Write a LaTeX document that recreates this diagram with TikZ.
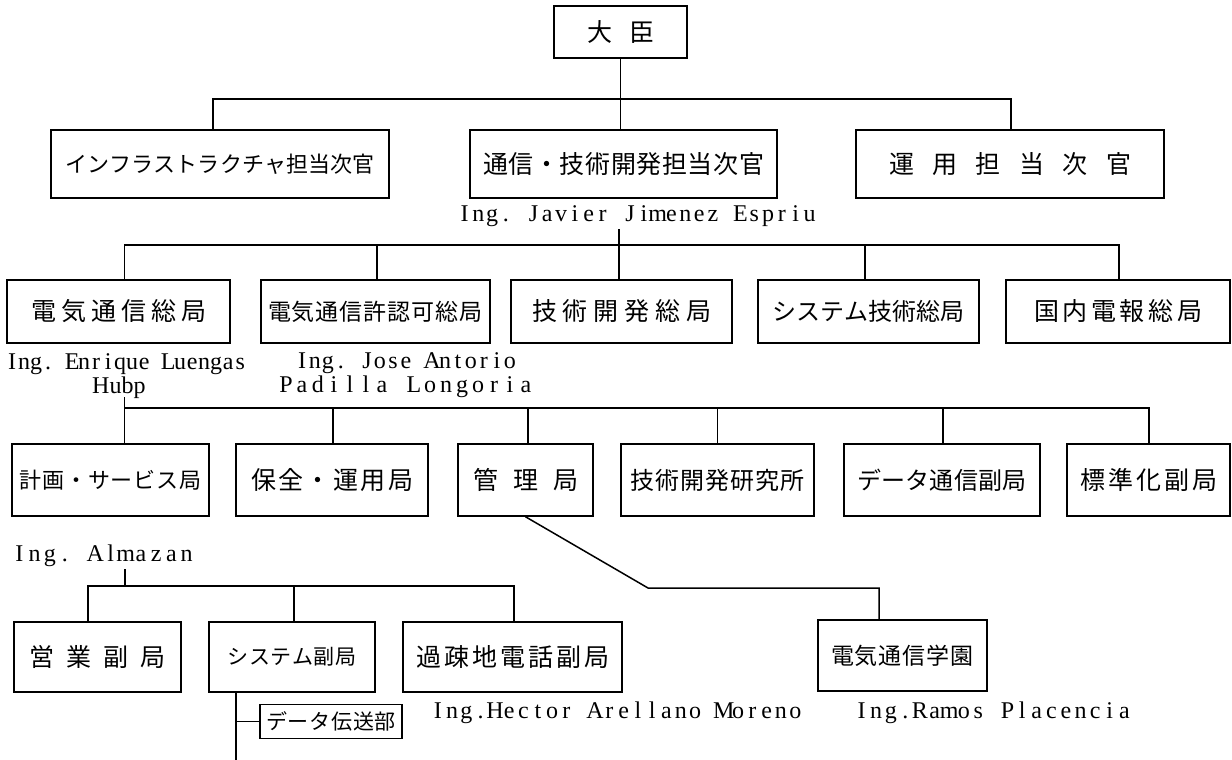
\documentclass[tikz,border=0pt]{standalone}
\usepackage{fontspec}
\newfontfamily\jp{Noto Sans CJK JP}
\newfontfamily\lat{Liberation Serif}
\ExplSyntaxOn
\NewDocumentCommand\spr{mm}{
  \makebox[#1][s]{
    \bool_set_true:N \l_tmpa_bool
    \tl_map_inline:nn {#2}
      { \bool_if:NF \l_tmpa_bool { \hfil } \bool_set_false:N \l_tmpa_bool ##1 }
  }
}
\NewDocumentCommand\cells{mm}{
  \tl_map_inline:nn {#2} { \makebox[#1]{##1} }
}
\ExplSyntaxOff
\newcommand\jpsz[1]{\jp\fontsize{#1}{#1}\selectfont}
\tikzset{
  bx/.style={draw, line width=1.5pt, inner sep=0pt, font=\jpsz{25}},
  nm/.style={inner sep=0pt, font=\lat\fontsize{24}{24}\selectfont},
  ln/.style={line width=1.5pt}
}
\begin{document}
\begin{tikzpicture}[x=1pt,y=-1pt]
\useasboundingbox[fill=white] (0,0) rectangle (1232,760);
% level 0
\node[bx, minimum width=133pt, minimum height=52pt] (minister) at (620.5,32) {\spr{67pt}{大臣}};
% level 1
\node[bx, minimum width=338pt, minimum height=68pt, font=\jpsz{22}] (infra) at (220,164) {\spr{310pt}{インフラストラクチャ担当次官}};
\node[bx, minimum width=307pt, minimum height=68pt] (tsushin) at (623.5,164) {\spr{281pt}{通信・技術開発担当次官}};
\node[bx, minimum width=308pt, minimum height=68pt] (unyo) at (1010,164) {\spr{242pt}{運用担当次官}};
\coordinate (b1R) at (1011,99);
\draw[ln] (minister.south) -- (minister.south |- tsushin.north);
\draw[ln] ([xshift=-7pt]infra.north) |- (b1R) -- (b1R |- unyo.north);
\node[nm] (javier) at (637,216) {\cells{13.8pt}{Ing.~Javier~Jimenez~Espriu}};
% level 2
\node[bx, minimum width=223pt, minimum height=63pt] (denki) at (118.5,311.5) {\spr{175pt}{電気通信総局}};
\node[bx, minimum width=229pt, minimum height=63pt, font=\jpsz{23}] (kyoninka) at (375.5,311.5) {\spr{215pt}{電気通信許認可総局}};
\node[bx, minimum width=221pt, minimum height=63pt] (gijutsu) at (621.5,311.5) {\spr{179pt}{技術開発総局}};
\node[bx, minimum width=221pt, minimum height=63pt, font=\jpsz{24}] (sysgi) at (868.5,311.5) {\spr{192pt}{システム技術総局}};
\node[bx, minimum width=224pt, minimum height=63pt] (kokunai) at (1118,311.5) {\spr{168pt}{国内電報総局}};
\coordinate (j1) at (619,229);
\coordinate (b2L) at (124.5,245);
\coordinate (b2R) at (1119,245);
\draw[ln] (j1) -- (j1 |- gijutsu.north);
\draw[ln] (b2L |- denki.north) -- (b2L) -- (b2R) -- (b2R |- kokunai.north);
\draw[ln] ([xshift=1.5pt]kyoninka.north) -- ([xshift=1.5pt]kyoninka.north |- b2L);
\draw[ln] ([xshift=-3.5pt]sysgi.north) -- ([xshift=-3.5pt]sysgi.north |- b2L);
\node[nm, align=left, anchor=north west] (enrique) at (6,353) {\cells{12pt}{Ing.~Enrique~Luengas}\\\hspace*{86pt}Hubp};
\node[nm, align=center] (jose) at (406,375) {\cells{13pt}{Ing.~Jose~Antorio}\\\cells{16pt}{Padilla~Longoria}};
% level 3
\node[bx, minimum width=197pt, minimum height=72pt, font=\jpsz{22}] (keikaku) at (110.5,480) {\spr{182pt}{計画・サービス局}};
\node[bx, minimum width=192pt, minimum height=72pt] (hozen) at (332,480) {\spr{162pt}{保全・運用局}};
\node[bx, minimum width=135pt, minimum height=72pt] (kanri) at (525.5,480) {\spr{105pt}{管理局}};
\node[bx, minimum width=193pt, minimum height=72pt, font=\jpsz{24}] (kenkyu) at (717.5,480) {\spr{174pt}{技術開発研究所}};
\node[bx, minimum width=196pt, minimum height=72pt, font=\jpsz{24}] (datatsu) at (942,480) {\spr{169pt}{データ通信副局}};
\node[bx, minimum width=163pt, minimum height=72pt] (hyojun) at (1148.5,480) {\spr{137pt}{標準化副局}};
\coordinate (e1) at (124.5,397);
\coordinate (b3R) at (1149,408);
\draw[ln] (e1) -- (e1 |- keikaku.north);
\draw[ln] (e1 |- b3R) -- (b3R) -- (b3R |- hyojun.north);
\draw[ln] ([xshift=1pt]hozen.north) -- ([xshift=1pt]hozen.north |- b3R);
\draw[ln] ([xshift=2.5pt]kanri.north) -- ([xshift=2.5pt]kanri.north |- b3R);
\draw[ln] (kenkyu.north) -- (kenkyu.north |- b3R);
\draw[ln] ([xshift=1pt]datatsu.north) -- ([xshift=1pt]datatsu.north |- b3R);
\node[nm] (almazan) at (103,556) {\cells{15.2pt}{Ing.~Almazan}};
% level 4
\node[bx, minimum width=167pt, minimum height=70pt] (eigyo) at (97.5,657) {\spr{136pt}{営業副局}};
\node[bx, minimum width=166pt, minimum height=70pt, font=\jpsz{21}] (sysfuku) at (292,657) {\spr{129pt}{システム副局}};
\node[bx, minimum width=219pt, minimum height=70pt] (kaso) at (512.5,657) {\spr{193pt}{過疎地電話副局}};
\node[bx, minimum width=169pt, minimum height=71pt, font=\jpsz{23}] (gakuen) at (902.5,655.5) {\spr{143pt}{電気通信学園}};
\coordinate (a1) at (125,569);
\coordinate (b4L) at (88,586);
\coordinate (b4R) at (514,586);
\draw[ln] (a1) -- (a1 |- b4L);
\draw[ln] (b4L |- eigyo.north) -- (b4L) -- (b4R) -- (b4R |- kaso.north);
\draw[ln] ([xshift=2pt]sysfuku.north) -- ([xshift=2pt]sysfuku.north |- b4L);
\coordinate (k1) at (648,588);
\coordinate (k2) at (879,588);
\draw[ln] (kanri.south) -- (k1) -- (k2) -- (k2 |- gakuen.north);
\node[nm] (hector) at (616.5,713) {\cells{14.3pt}{Ing.Hector~Arellano~Moreno}};
\node[nm] (ramos) at (993,713) {\cells{14.6pt}{Ing.Ramos~Placencia}};
% level 5
\node[bx, minimum width=142pt, minimum height=34pt, font=\jpsz{21}] (densou) at (331,721.5) {\spr{130pt}{データ伝送部}};
\coordinate (s1) at (236,760);
\draw[ln] ([xshift=-56pt]sysfuku.south) -- (s1);
\draw[ln] (densou.west) -- (densou.west -| s1);
\end{tikzpicture}
\end{document}
